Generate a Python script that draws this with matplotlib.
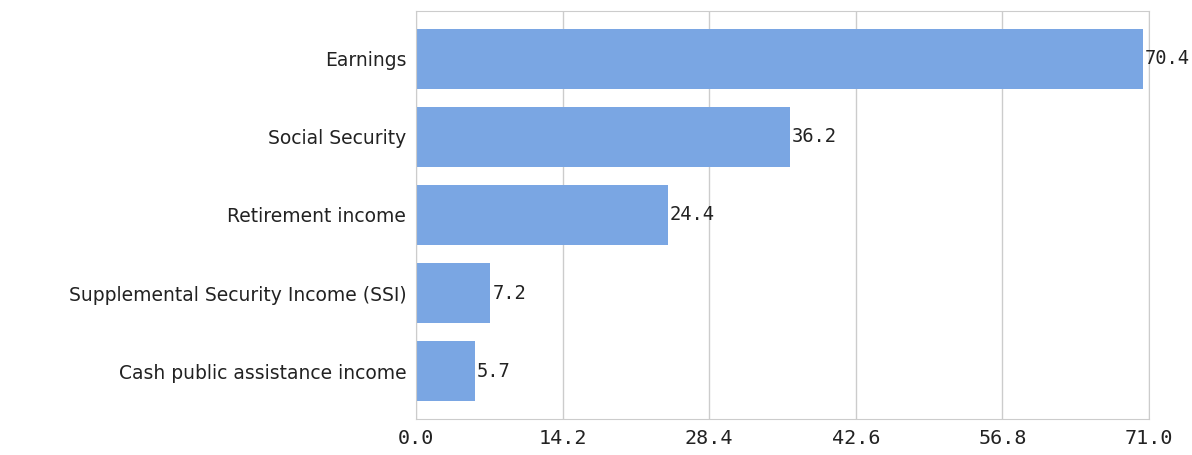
import matplotlib.pyplot as plt

categories = [
    "Earnings",
    "Social Security",
    "Retirement income",
    "Supplemental Security Income (SSI)",
    "Cash public assistance income",
]
values = [70.4, 36.2, 24.4, 7.2, 5.7]
xticks = [0.0, 14.2, 28.4, 42.6, 56.8, 71.0]

BAR = "#7AA6E3"
GRID = "#CCCCCC"
TEXT = "#222222"

fig = plt.figure(figsize=(11.92, 4.55), dpi=100)
ax = fig.add_axes([0.349, 0.079, 0.615, 0.897])

ypos = list(range(len(categories)))[::-1]
ax.barh(ypos, values, height=0.77, color=BAR, zorder=2)

for y, v in zip(ypos, values):
    ax.text(v + 0.2, y, f"{v:.1f}", va="center", ha="left", fontsize=13.5,
            family="DejaVu Sans Mono", color=TEXT, zorder=3)

ax.set_xlim(0, 71.0)
ax.set_ylim(-0.61, 4.61)
ax.set_xticks(xticks)
ax.set_xticklabels([f"{t:.1f}" for t in xticks], family="DejaVu Sans Mono", fontsize=14.5, color=TEXT)
ax.set_yticks(ypos)
ax.set_yticklabels(categories, fontsize=13.5, color=TEXT)
ax.tick_params(axis="both", length=0)
ax.tick_params(axis="x", pad=7)
ax.tick_params(axis="y", pad=7)
ax.grid(axis="x", color=GRID, linewidth=1, zorder=0)
for s in ax.spines.values():
    s.set_color(GRID)

fig.savefig("out.png", dpi=100, facecolor="white")
